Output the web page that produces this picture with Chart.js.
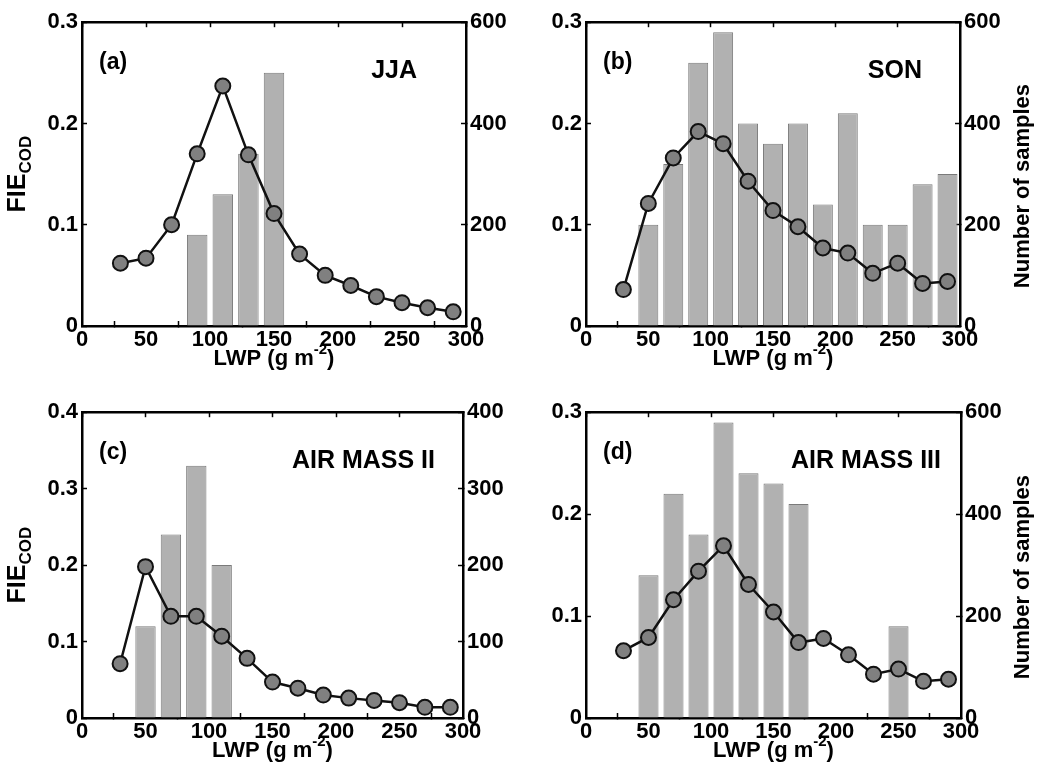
<!DOCTYPE html>
<html>
<head>
<meta charset="utf-8">
<script src="https://cdn.jsdelivr.net/npm/chart.js@4/dist/chart.umd.min.js"></script>
<style>
  body { margin: 0; background: #fff; }
  #wrap { position: relative; width: 1055px; height: 780px; }
  .panel { position: absolute; }
</style>
</head>
<body>
<div id="wrap">
  <div class="panel" style="left:0;top:0;width:527px;height:390px"><canvas id="chart-a"></canvas></div>
  <div class="panel" style="left:527px;top:0;width:528px;height:390px"><canvas id="chart-b"></canvas></div>
  <div class="panel" style="left:0;top:390px;width:527px;height:390px"><canvas id="chart-c"></canvas></div>
  <div class="panel" style="left:527px;top:390px;width:528px;height:390px"><canvas id="chart-d"></canvas></div>
</div>
<script>
// LWP bin centres (g m-2)
const lwpBins = [30, 50, 70, 90, 110, 130, 150, 170, 190, 210, 230, 250, 270, 290];

// FIE_COD per bin
const fieJJA = [0.062, 0.067, 0.100, 0.170, 0.237, 0.169, 0.111, 0.071, 0.050, 0.040, 0.029, 0.023, 0.018, 0.014];
const fieSON = [0.036, 0.121, 0.166, 0.192, 0.180, 0.143, 0.114, 0.098, 0.077, 0.072, 0.052, 0.062, 0.042, 0.044];
const fieAM2 = [0.071, 0.198, 0.133, 0.133, 0.107, 0.078, 0.047, 0.039, 0.030, 0.026, 0.023, 0.020, 0.014, 0.014];
const fieAM3 = [0.066, 0.079, 0.116, 0.144, 0.169, 0.131, 0.104, 0.074, 0.078, 0.062, 0.043, 0.048, 0.036, 0.038];

// number of samples per bin (null = no bar)
const nJJA = [null, null, null, 180, 260, 340, 500, null, null, null, null, null, null, null];
const nSON = [null, 200, 320, 520, 580, 400, 360, 400, 240, 420, 200, 200, 280, 300];
const nAM2 = [null, 120, 240, 330, 200, null, null, null, null, null, null, null, null, null];
const nAM3 = [null, 280, 440, 360, 580, 480, 460, 420, null, null, null, 180, null, null];

const xTicks = [0, 50, 100, 150, 200, 250, 300];

const FONT = "'Liberation Sans', Arial, sans-serif";
const INK = '#000';

// text labels drawn on top of the chart
const panelDeco = {
  id: 'panelDeco',
  afterDraw(chart, args, opts) {
    const ctx = chart.ctx;
    const a = chart.chartArea;
    ctx.save();
    ctx.fillStyle = INK;
    ctx.textBaseline = 'middle';

    // panel letter and name
    ctx.font = 'bold 23px ' + FONT;
    ctx.textAlign = 'left';
    ctx.fillText(opts.letter, a.left + 17, a.top + 40);
    ctx.font = 'bold 25px ' + FONT;
    ctx.textAlign = 'right';
    ctx.fillText(opts.name, a.right - opts.nameRight, a.top + 49);

    // x title with superscript
    ctx.textAlign = 'left';
    const t1 = 'LWP (g m', t2 = '-2', t3 = ')';
    ctx.font = 'bold 22px ' + FONT;
    const w1 = ctx.measureText(t1).width, w3 = ctx.measureText(t3).width;
    ctx.font = 'bold 15px ' + FONT;
    const w2 = ctx.measureText(t2).width;
    const tx = (a.left + a.right) / 2 - (w1 + w2 + w3) / 2;
    const ty = a.bottom + 33;
    ctx.font = 'bold 22px ' + FONT;
    ctx.fillText(t1, tx, ty);
    ctx.font = 'bold 15px ' + FONT;
    ctx.fillText(t2, tx + w1, ty - 9);
    ctx.font = 'bold 22px ' + FONT;
    ctx.fillText(t3, tx + w1 + w2, ty);

    // left title FIE_COD
    if (opts.leftTitle) {
      ctx.save();
      ctx.translate(18, (a.top + a.bottom) / 2);
      ctx.rotate(-Math.PI / 2);
      ctx.font = 'bold 25px ' + FONT;
      const wa = ctx.measureText('FIE').width;
      ctx.font = 'bold 17px ' + FONT;
      const wb = ctx.measureText('COD').width;
      const x0 = -(wa + wb) / 2;
      ctx.textAlign = 'left';
      ctx.font = 'bold 25px ' + FONT;
      ctx.fillText('FIE', x0, 0);
      ctx.font = 'bold 17px ' + FONT;
      ctx.fillText('COD', x0 + wa, 8);
      ctx.restore();
    }
    // right title
    if (opts.rightTitle) {
      ctx.save();
      ctx.translate(chart.width - 32, (a.top + a.bottom) / 2 + 12);
      ctx.rotate(-Math.PI / 2);
      ctx.font = 'bold 22px ' + FONT;
      ctx.textAlign = 'center';
      ctx.fillText('Number of samples', 0, 0);
      ctx.restore();
    }
    ctx.restore();
  }
};

function fixSize(w, h) {
  return function (scale) {
    if (w !== undefined) scale.width = w;
    if (h !== undefined) scale.height = h;
  };
}

// frame line + inward tick marks, done by the scales themselves
const frameBorder = { display: true, color: INK, width: 2.5 };
const innerTicks = { display: true, drawOnChartArea: false, drawTicks: true, tickLength: -5, tickWidth: 1.5, tickColor: INK };

function makePanel(id, fie, counts, p) {
  const tickFont = { family: FONT, size: 22, weight: 'bold' };
  const setXTicks = s => { s.ticks = xTicks.map(v => ({ value: v })); };
  return new Chart(document.getElementById(id), {
    data: {
      datasets: [
        {
          type: 'line',
          data: lwpBins.map((x, i) => ({ x: x, y: fie[i] })),
          yAxisID: 'y',
          borderColor: '#111',
          borderWidth: 2.5,
          pointRadius: 7.5,
          pointBackgroundColor: '#808080',
          pointBorderColor: '#111',
          pointBorderWidth: 2,
          tension: 0,
          order: 0
        },
        {
          type: 'bar',
          data: lwpBins.map((x, i) => ({ x: x, y: counts[i] })),
          yAxisID: 'y1',
          backgroundColor: '#b1b1b1',
          borderColor: '#7a7a7a',
          borderWidth: 1,
          barPercentage: 1.0,
          categoryPercentage: 0.8,
          order: 1
        }
      ]
    },
    options: {
      responsive: true,
      maintainAspectRatio: false,
      animation: false,
      layout: { autoPadding: false, padding: { top: p.top, bottom: 0, left: 0, right: 0 } },
      plugins: {
        legend: { display: false },
        tooltip: { enabled: false },
        panelDeco: p.deco
      },
      scales: {
        x: {
          type: 'linear',
          position: 'bottom',
          offset: false,
          min: 0, max: 300,
          afterFit: fixSize(undefined, p.xh),
          afterBuildTicks: setXTicks,
          grid: innerTicks,
          border: frameBorder,
          ticks: { color: INK, font: tickFont, padding: 6, maxRotation: 0 }
        },
        xTop: {
          type: 'linear',
          position: 'top',
          offset: false,
          min: 0, max: 300,
          afterFit: fixSize(undefined, 0),
          afterBuildTicks: setXTicks,
          grid: innerTicks,
          border: frameBorder,
          ticks: { display: false }
        },
        y: {
          position: 'left',
          min: 0, max: p.yMax,
          afterFit: fixSize(p.lw),
          grid: innerTicks,
          border: frameBorder,
          ticks: { stepSize: p.yStep, color: INK, font: tickFont, padding: 9 }
        },
        y1: {
          position: 'right',
          min: 0, max: p.y1Max,
          afterFit: fixSize(p.rw),
          grid: innerTicks,
          border: frameBorder,
          ticks: { stepSize: p.y1Step, color: INK, font: tickFont, padding: 9 }
        }
      }
    },
    plugins: [panelDeco]
  });
}

makePanel('chart-a', fieJJA, nJJA, {
  top: 17, xh: 64, lw: 82, rw: 61, yMax: 0.3, yStep: 0.1, y1Max: 600, y1Step: 200,
  deco: { letter: '(a)', name: 'JJA', nameRight: 49, leftTitle: true, rightTitle: false }
});
makePanel('chart-b', fieSON, nSON, {
  top: 17, xh: 64, lw: 59, rw: 95, yMax: 0.3, yStep: 0.1, y1Max: 600, y1Step: 200,
  deco: { letter: '(b)', name: 'SON', nameRight: 38, leftTitle: false, rightTitle: true }
});
makePanel('chart-c', fieAM2, nAM2, {
  top: 20, xh: 62, lw: 82, rw: 64, yMax: 0.4, yStep: 0.1, y1Max: 400, y1Step: 100,
  deco: { letter: '(c)', name: 'AIR MASS II', nameRight: 28, leftTitle: true, rightTitle: false }
});
makePanel('chart-d', fieAM3, nAM3, {
  top: 20, xh: 62, lw: 59, rw: 94, yMax: 0.3, yStep: 0.1, y1Max: 600, y1Step: 200,
  deco: { letter: '(d)', name: 'AIR MASS III', nameRight: 20, leftTitle: false, rightTitle: true }
});
</script>
</body>
</html>
